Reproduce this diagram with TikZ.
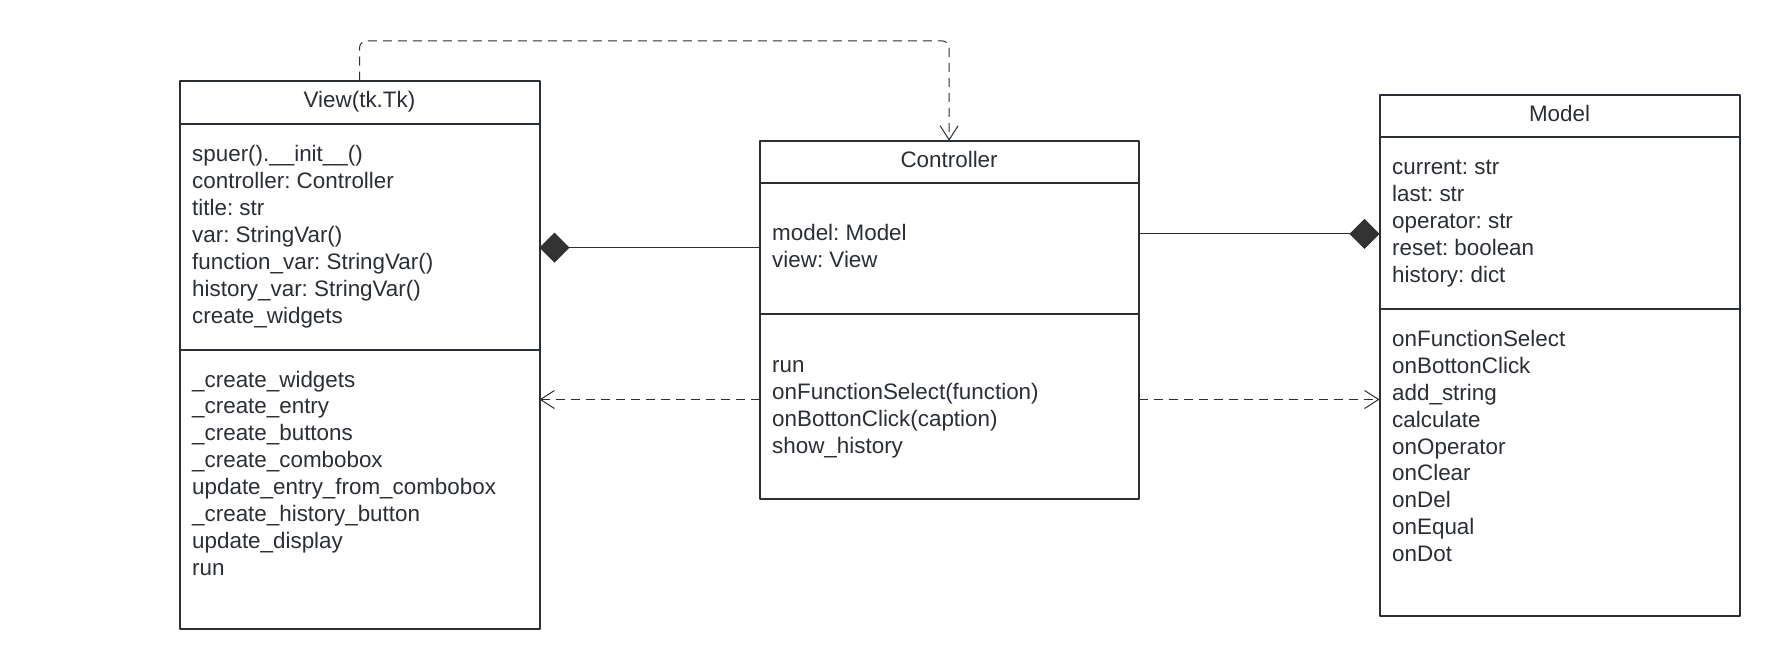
\documentclass[tikz,border=0pt]{standalone}
\usepackage{fontspec}
\setmainfont{Liberation Sans}
\usetikzlibrary{arrows.meta}
\definecolor{ink}{HTML}{2A2E35}
\definecolor{diam}{HTML}{333333}
\frenchspacing
\begin{document}
\begin{tikzpicture}[x=1pt,y=-1pt,line join=round,
	font=\fontsize{22.4}{27}\selectfont,
	part/.style={draw=ink,line width=2pt,inner sep=0pt,outer sep=0pt,anchor=north west},
	txt/.style={anchor=west,inner sep=0pt,text=ink,text height=16pt,text depth=5pt},
	ttl/.style={inner sep=0pt,text=ink,text height=16pt,text depth=5pt},
	dep/.style={draw=ink,line width=1pt,dash pattern=on 9pt off 6pt,-{Straight Barb[length=14pt,width=18pt]}},
	comp/.style={draw=ink,line width=1pt,-{Diamond[length=30pt,width=30pt,fill=diam]}}]
	\useasboundingbox (0,0) rectangle (1780,670);
	% View
	\node[part,minimum width=360pt,minimum height=43pt] (viewH) at (179.5,80.6) {};
	\node[part,minimum width=360pt,minimum height=226pt] (viewA) at (179.5,123.6) {};
	\node[part,minimum width=360pt,minimum height=279pt] (viewM) at (179.5,349.6) {};
	\node[ttl] (viewT) at (viewH.center) {View(tk.Tk)};
	\foreach \t [count=\i] in {spuer().\_\_init\_\_(),controller: Controller,title: str,var: StringVar(),function\_var: StringVar(),history\_var: StringVar(),create\_widgets}
		\node[txt] (va\i) at (192,{155.7+27*(\i-1)}) {\t};
	\foreach \t [count=\i] in {\_create\_widgets,\_create\_entry,\_create\_buttons,\_create\_combobox,update\_entry\_from\_combobox,\_create\_history\_button,update\_display,run}
		\node[txt] (vm\i) at (192,{381.5+26.9*(\i-1)}) {\t};
	% Controller
	\node[part,minimum width=379pt,minimum height=42pt] (ctrlH) at (759.6,140.7) {};
	\node[part,minimum width=379pt,minimum height=131.7pt] (ctrlA) at (759.6,182.7) {};
	\node[part,minimum width=379pt,minimum height=185pt] (ctrlM) at (759.6,314.4) {};
	\node[ttl] (ctrlT) at (ctrlH.center) {Controller};
	\foreach \t [count=\i] in {model: Model,view: View}
		\node[txt] (ca\i) at (772,{235.2+27*(\i-1)}) {\t};
	\foreach \t [count=\i] in {run,onFunctionSelect(function),onBottonClick(caption),show\_history}
		\node[txt] (cm\i) at (772,{366.8+26.9*(\i-1)}) {\t};
	% Model
	\node[part,minimum width=360pt,minimum height=42pt] (modelH) at (1379.5,95.3) {};
	\node[part,minimum width=360pt,minimum height=171.4pt] (modelA) at (1379.5,137.3) {};
	\node[part,minimum width=360pt,minimum height=307.6pt] (modelM) at (1379.5,308.7) {};
	\node[ttl] (modelT) at (modelH.center) {Model};
	\foreach \t [count=\i] in {current: str,last: str,operator: str,reset: boolean,history: dict}
		\node[txt] (ma\i) at (1392,{169.3+27*(\i-1)}) {\t};
	\foreach \t [count=\i] in {onFunctionSelect,onBottonClick,add\_string,calculate,onOperator,onClear,onDel,onEqual,onDot}
		\node[txt] (mm\i) at (1392,{340.7+26.95*(\i-1)}) {\t};
	% connectors
	\draw[dep,rounded corners=7pt] (viewH.north) -- ++(0,-39.7) -| (ctrlH.north);
	\draw[comp] ([yshift=1pt]ctrlA.west) -- ([yshift=1pt]ctrlA.west -| viewA.east);
	\draw[comp] ([yshift=14.6pt]ctrlA.east) -- ([yshift=14.6pt]ctrlA.east -| modelA.west);
	\draw[dep] ([yshift=7.4pt]ctrlM.west) -- ([yshift=7.4pt]ctrlM.west -| viewM.east);
	\draw[dep] ([yshift=7.4pt]ctrlM.east) -- ([yshift=7.4pt]ctrlM.east -| modelM.west);
\end{tikzpicture}
\end{document}
